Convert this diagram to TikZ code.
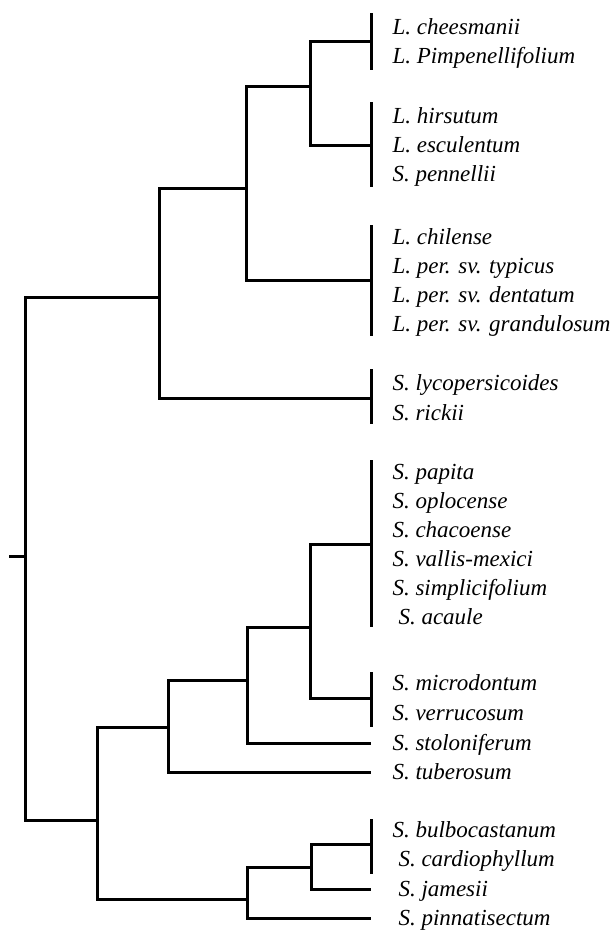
\documentclass[tikz,border=0pt]{standalone}
\usepackage{fontspec}
\setmainfont{Liberation Serif}
\usetikzlibrary{calc}

\begin{document}
\begin{tikzpicture}[x=1pt,y=-1pt,line width=3pt,line join=miter,
  taxon/.style={anchor=west,inner xsep=20pt,inner ysep=0pt,text height=15pt,text depth=0pt,font=\itshape\fontsize{23}{27}\selectfont},
  taxin/.style={taxon,inner xsep=26pt}]

            \useasboundingbox (0,0) rectangle (612,932);

            % taxa
            \node[taxon] (chee) at (371,27) {L. cheesmanii};
            \node[taxon] (pimp) at (371,56) {L. Pimpenellifolium};
            \node[taxon] (hirs) at (371,116) {L. hirsutum};
            \node[taxon] (escu) at (371,145) {L. esculentum};
            \node[taxon] (penn) at (371,174) {S. pennellii};
            \node[taxon] (chil) at (371,237) {L. chilense};
            \node[taxon] (typi) at (371,266) {L. per. sv. typicus};
            \node[taxon] (dent) at (371,295) {L. per. sv. dentatum};
            \node[taxon] (gran) at (371,324) {L. per. sv. grandulosum};
            \node[taxon] (lyco) at (371,383) {S. lycopersicoides};
            \node[taxon] (rick) at (371,413) {S. rickii};
            \node[taxon] (papi) at (371,472) {S. papita};
            \node[taxon] (oplo) at (371,501) {S. oplocense};
            \node[taxon] (chac) at (371,530) {S. chacoense};
            \node[taxon] (vall) at (371,559) {S. vallis-mexici};
            \node[taxon] (simp) at (371,588) {S. simplicifolium};
            \node[taxin] (acau) at (371,617) {S. acaule};
            \node[taxon] (micr) at (371,683) {S. microdontum};
            \node[taxon] (verr) at (371,713) {S. verrucosum};
            \node[taxon] (stol) at (371,743) {S. stoloniferum};
            \node[taxon] (tube) at (371,772) {S. tuberosum};
            \node[taxon] (bulb) at (371,830) {S. bulbocastanum};
            \node[taxin] (card) at (371,859) {S. cardiophyllum};
            \node[taxin] (jame) at (371,889) {S. jamesii};
            \node[taxin] (pinn) at (371,918) {S. pinnatisectum};

            % bars
            \draw ([yshift=14pt]chee.west) -- ([yshift=-14pt]pimp.west);
            \draw ([yshift=14pt]hirs.west) -- ([yshift=-13pt]penn.west);
            \draw ([yshift=12pt]chil.west) -- ([yshift=-12pt]gran.west);
            \draw ([yshift=14pt]lyco.west) -- ([yshift=-11pt]rick.west);
            \draw ([yshift=12pt]papi.west) -- ([yshift=-10pt]acau.west);
            \draw ([yshift=11pt]micr.west) -- ([yshift=-14pt]verr.west);
            \draw ([yshift=11pt]bulb.west) -- ([yshift=-15pt]card.west);

            \coordinate (b1) at ($(chee.west)!.5!(pimp.west)$);
            \coordinate (b2) at ($(hirs.west)!.5!(penn.west)$);
            \coordinate (b3) at ($(chil.west)!.5!(gran.west)$);
            \coordinate (b4) at ($(lyco.west)!.5!(rick.west)$);
            \coordinate (b5) at ($(papi.west)!.5!(acau.west)$);
            \coordinate (b6) at ($(micr.west)!.5!(verr.west)$);
            \coordinate (b7) at ($(bulb.west)!.5!(card.west)$);

            % branch points
            \coordinate (n1) at (310,86);
            \coordinate (n2) at (246,188);
            \coordinate (n3) at (159,297);
            \coordinate (n4) at (310,627);
            \coordinate (n5) at (247,680);
            \coordinate (n6) at (168,727);
            \coordinate (n7) at (311,867);
            \coordinate (n8) at (247,899);
            \coordinate (n9) at (97,820);
            \coordinate (root) at (25,556);
            \coordinate (tick) at (9,556);

            \draw (b1) -| (n1) |- (b2);
            \draw (n1) -| (n2) |- (b3);
            \draw (n2) -| (n3) |- (b4);
            \draw (b5) -| (n4) |- (b6);
            \draw (n4) -| (n5) |- (stol.west);
            \draw (n5) -| (n6) |- (tube.west);
            \draw (b7) -| (n7) |- (jame.west);
            \draw (n7) -| (n8) |- (pinn.west);
            \draw (n6) -| (n9) |- (n8);
            \draw (n3) -| (root) |- (n9);
            \draw (tick) -- (root);

        \end{tikzpicture}
\end{document}
